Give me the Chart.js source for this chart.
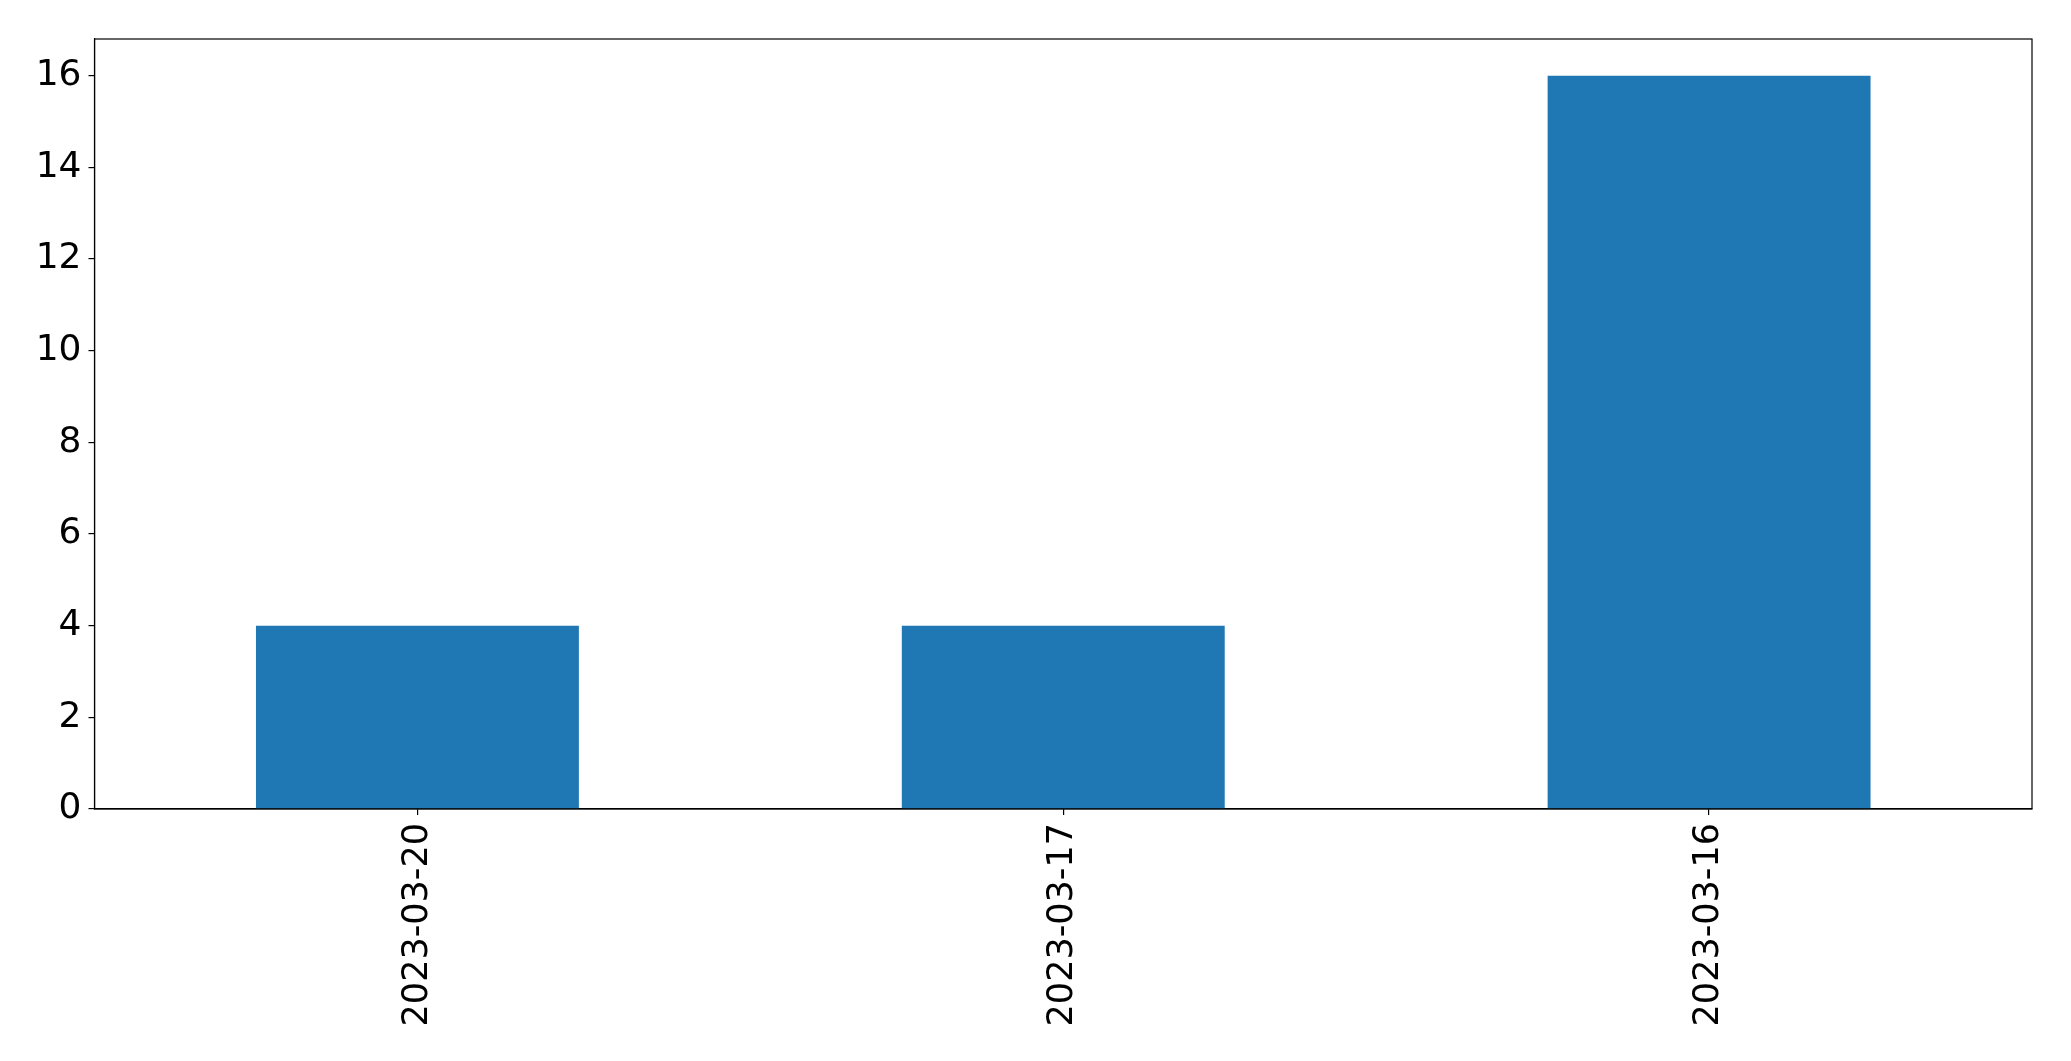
<!DOCTYPE html>
<html>
<head>
<meta charset="utf-8">
<title>Counts by date</title>
<script src="https://cdn.jsdelivr.net/npm/chart.js@4.4.1/dist/chart.umd.min.js"></script>
<style>
  body { margin: 0; background: #fff; }
  canvas { display: block; }
</style>
</head>
<body>
<canvas id="barChart" width="2071" height="1061"></canvas>
<script>
// data
const dates = ['2023-03-20', '2023-03-17', '2023-03-16'];
const counts = [4, 4, 16];
const yTicks = [0, 2, 4, 6, 8, 10, 12, 14, 16];
const yMax = 16.8;

// matplotlib-style box around the plot area
const frame = {
    id: 'frame',
    afterDraw(chart) {
        const { ctx, chartArea: a } = chart;
        ctx.save();
        ctx.strokeStyle = '#000';
        ctx.lineWidth = 1.2;
        ctx.strokeRect(a.left, a.top, a.right - a.left, a.bottom - a.top);
        ctx.restore();
    }
};

const ctx = document.getElementById('barChart').getContext('2d');
new Chart(ctx, {
    type: 'bar',
    data: {
        labels: dates,
        datasets: [{
            data: counts,
            backgroundColor: '#1f77b4',
            borderWidth: 0,
            barPercentage: 0.5,
            categoryPercentage: 1.0
        }]
    },
    options: {
        responsive: false,
        animation: false,
        layout: { padding: { top: 39, right: 39, left: 0, bottom: 0 } },
        plugins: { legend: { display: false }, tooltip: { enabled: false } },
        scales: {
            x: {
                grid: { offset: false, drawOnChartArea: false, color: '#000', tickLength: 6, lineWidth: 1.2 },
                border: { color: '#000', width: 1.2 },
                ticks: { color: '#000', font: { family: 'DejaVu Sans', size: 35 }, minRotation: 90, maxRotation: 90, padding: 8 },
                afterFit(scale) { scale.height = 252; }
            },
            y: {
                min: 0,
                max: yMax,
                grid: { drawOnChartArea: false, color: '#000', tickLength: 6, lineWidth: 1.2 },
                border: { color: '#000', width: 1.2 },
                ticks: { color: '#000', font: { family: 'DejaVu Sans', size: 36 }, padding: 7 },
                afterBuildTicks(scale) { scale.ticks = yTicks.map(v => ({ value: v })); },
                afterFit(scale) { scale.width = 94.5; }
            }
        }
    },
    plugins: [frame]
});
</script>
</body>
</html>
